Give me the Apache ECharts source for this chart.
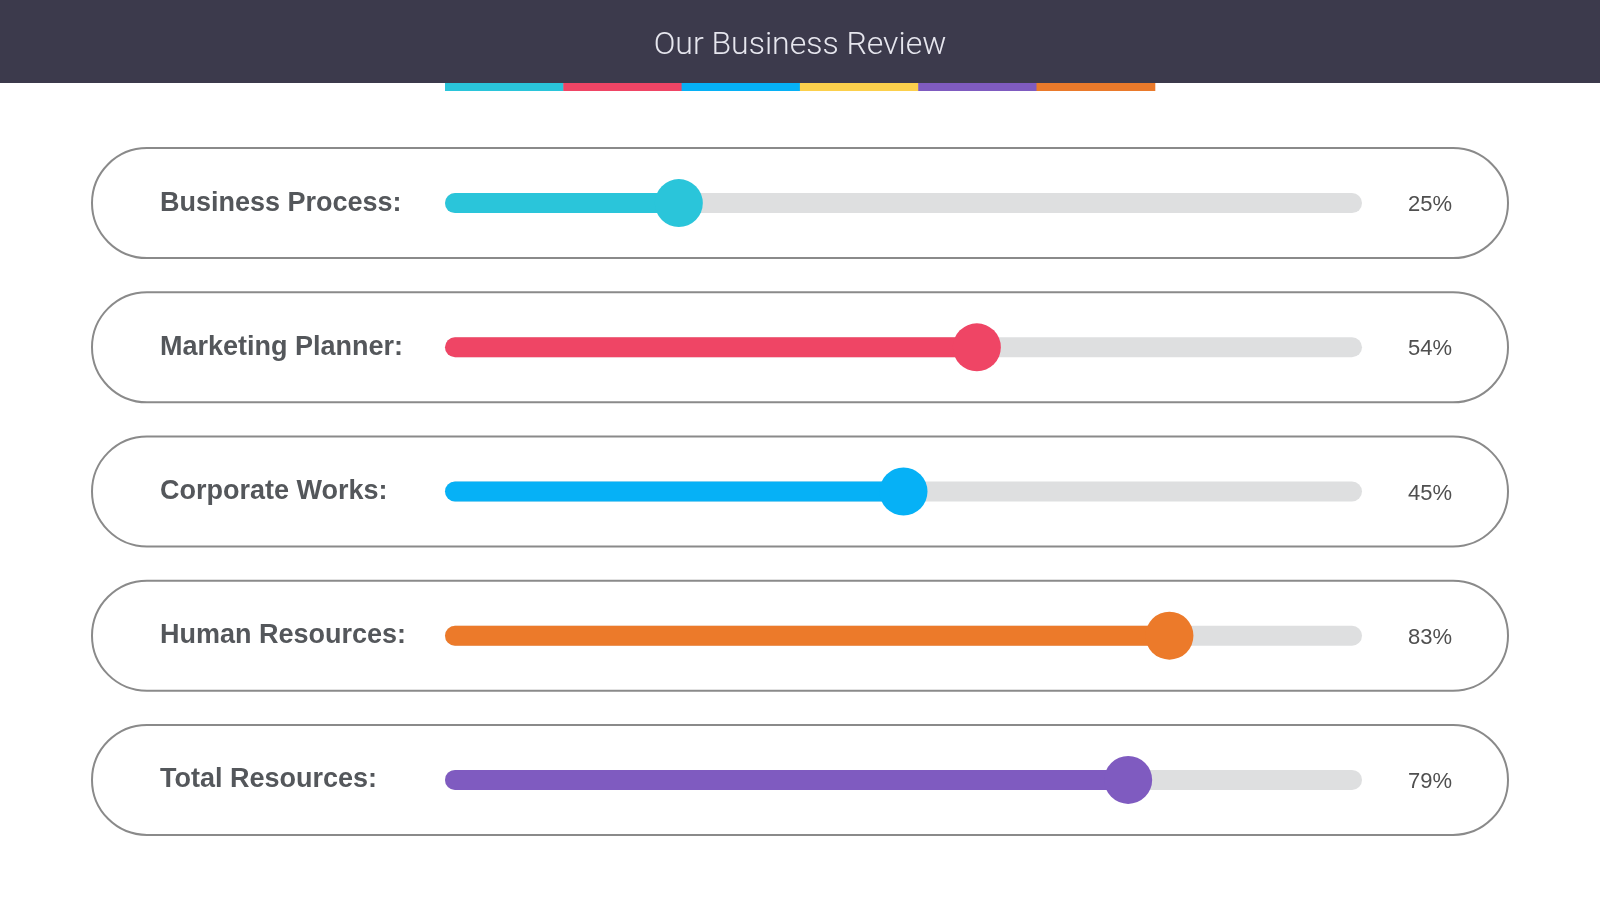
<!DOCTYPE html>
<html>
<head>
<meta charset="utf-8">
<script src="https://cdn.jsdelivr.net/npm/echarts@6/dist/echarts.min.js"></script>
<style>
html,body{margin:0;padding:0;background:#fff;}
#chart{width:1600px;height:900px;}
</style>
</head>
<body>
<div id="chart"></div>
<script>
// ---- data ----
const titleText = 'Our Business Review';
const categories = ['Business Process:', 'Marketing Planner:', 'Corporate Works:', 'Human Resources:', 'Total Resources:'];
const statedPercents = [25, 54, 45, 83, 79];          // text shown at the right
const fillValues = [25.5, 58, 50, 79, 74.5];           // drawn slider position (% of track)
const rowColors = ['#2ac5da', '#ef4565', '#06b1f6', '#ec7a2a', '#7f5bc0'];
const stripColors = ['#2ac5da', '#ef4565', '#06b1f6', '#fcd04c', '#7f5bc0', '#ea7a2b'];
const trackMax = 100;

const chart = echarts.init(document.getElementById('chart'));

const stripGraphics = stripColors.map((c, i) => ({
  type: 'rect', left: 445 + i * 118.3, top: 83,
  shape: { width: 118.8, height: 8 }, style: { fill: c }, z: 10
}));

chart.setOption({
  backgroundColor: '#ffffff',
  animation: false,
  title: {
    text: titleText, left: 'center', top: 30, padding: 0,
    textStyle: { color: '#e6e6ee', fontSize: 32, fontWeight: 300, fontFamily: 'Roboto' }
  },
  graphic: [
    { type: 'rect', left: 0, top: 0, shape: { width: 1600, height: 83 }, style: { fill: '#3c3a4c' }, z: -10 }
  ].concat(stripGraphics),
  grid: { left: 445, right: 238, top: 131, bottom: 48 },
  xAxis: { type: 'value', min: 0, max: trackMax, show: false },
  yAxis: {
    type: 'category', data: categories, inverse: true,
    axisLine: { show: false }, axisTick: { show: false }, splitLine: { show: false },
    axisLabel: {
      align: 'left', margin: 285, fontSize: 27, fontWeight: 'bold',
      fontFamily: 'Liberation Sans', color: '#54575b', padding: [9, 0, 0, 0]
    }
  },
  series: [
    {
      type: 'custom', clip: false, silent: true, z: 0,
      data: categories.map((c, i) => [0, i]),
      renderItem: function (params, api) {
        const p0 = api.coord([0, api.value(1)]);
        const p1 = api.coord([trackMax, api.value(1)]);
        const left = p0[0] - 353;
        const right = p1[0] + 146;
        return {
          type: 'rect',
          shape: { x: left, y: p0[1] - 55, width: right - left, height: 110, r: 55 },
          style: { fill: '#ffffff', stroke: '#8a8a8a', lineWidth: 2 }
        };
      }
    },
    {
      type: 'bar', barWidth: 20, z: 2, silent: true,
      data: categories.map(() => trackMax),
      itemStyle: { color: '#dedfe0', borderRadius: 10 },
      label: {
        show: true, position: 'right', distance: 46, offset: [0, 2],
        formatter: p => statedPercents[p.dataIndex] + '%',
        fontSize: 22, color: '#4f4f4f', fontFamily: 'Liberation Sans'
      }
    },
    {
      type: 'bar', barWidth: 20, barGap: '-100%', z: 3, silent: true,
      data: fillValues.map((v, i) => ({ value: v, itemStyle: { color: rowColors[i] } })),
      itemStyle: { borderRadius: 10 }
    },
    {
      type: 'scatter', symbol: 'circle', symbolSize: 48, z: 4, silent: true,
      data: fillValues.map((v, i) => ({ value: [v, i], itemStyle: { color: rowColors[i], opacity: 1 } }))
    }
  ]
});
</script>
</body>
</html>
